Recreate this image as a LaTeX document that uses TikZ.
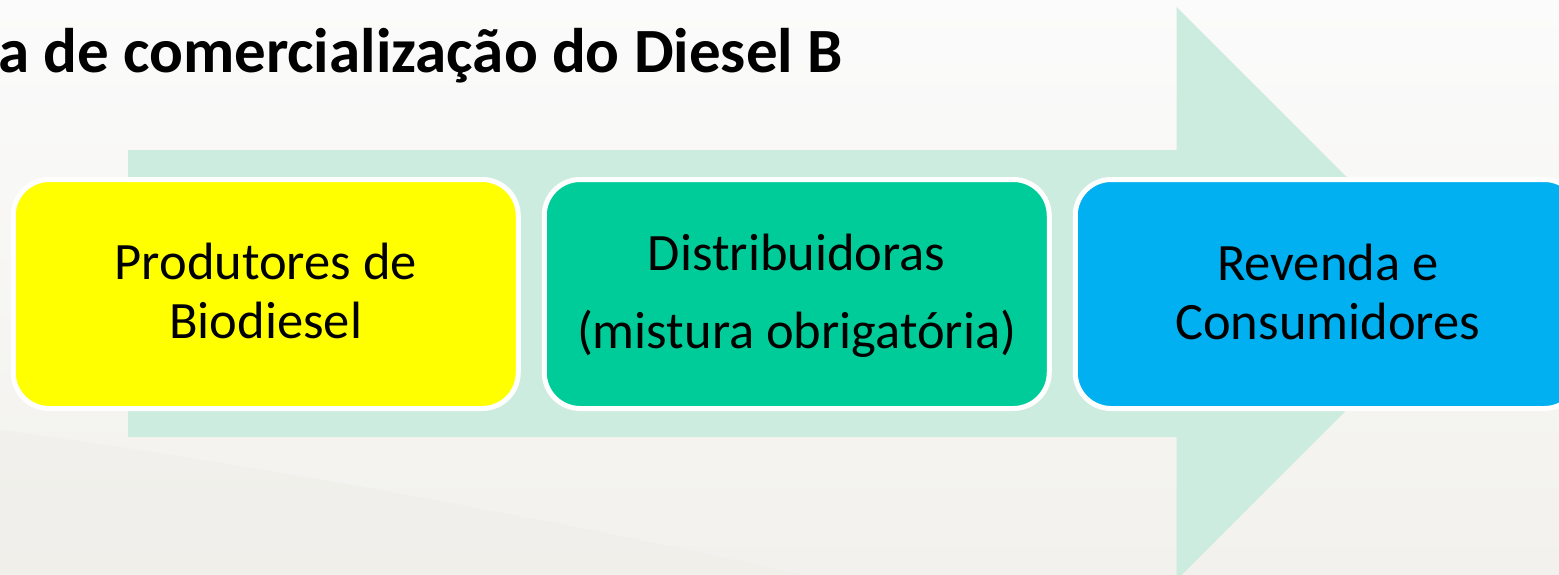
\documentclass[tikz,border=0pt]{standalone}
\usepackage{fontspec}
\setmainfont{Carlito}
\definecolor{bgtop}{HTML}{FBFBFB}
\definecolor{bgbot}{HTML}{F2F1ED}
\definecolor{swoosh}{HTML}{ECEBE5}
\definecolor{mint}{HTML}{CDECE0}
\definecolor{boxyellow}{HTML}{FFFF00}
\definecolor{boxgreen}{HTML}{00CC99}
\definecolor{boxblue}{HTML}{00B0F0}
\tikzset{
  stagebox/.style={draw=white, line width=5pt, rounded corners=36pt,
    minimum width=505pt, minimum height=229pt, inner sep=0pt},
  stagetext/.style={anchor=base, align=center, inner sep=0pt,
    font=\fontsize{52.5}{59}\selectfont},
  titletext/.style={anchor=base east, inner sep=0pt,
    font=\fontsize{63}{76}\selectfont\bfseries}
}
\begin{document}
\begin{tikzpicture}[x=1pt,y=-1pt]
\useasboundingbox (0,0) rectangle (1559,574);
\begin{scope}
\clip (0,0) rectangle (1559,574);
\shade[top color=bgtop, bottom color=bgbot] (0,0) rectangle (1559,574);
\fill[swoosh, opacity=0.3] (0,430) .. controls (300,470) and (600,530) .. (800,574) -- (0,574) -- cycle;
% big background arrow
\fill[mint] (128,150) -- (1176.7,150) -- (1176.7,7) -- (1463,293.5) -- (1176.7,580) -- (1176.7,437) -- (128,437) -- cycle;
% boxes
\node[stagebox, fill=boxyellow] (b1) at (265.75,294) {};
\node[stagebox, fill=boxgreen] (b2) at (796.75,294) {};
\node[stagebox, fill=boxblue] (b3) at (1327.75,294) {};
\node[stagetext] (t1) at (265.75,338) {Produtores de\\Biodiesel};
\node[stagetext] (t2) at (796.75,348) {Distribuidoras\\[19pt](mistura obrigatória)};
\node[stagetext] (t3) at (1327.75,339) {Revenda e\\Consumidores};
\node[titletext] (title) at (843,72) {a de comercialização do Diesel B};
\end{scope}
\end{tikzpicture}
\end{document}
